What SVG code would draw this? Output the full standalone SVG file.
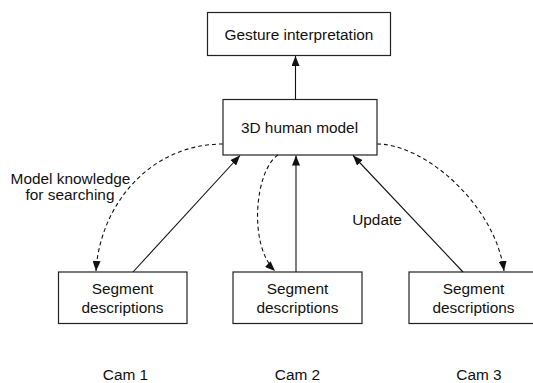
<svg xmlns="http://www.w3.org/2000/svg" width="533" height="383" viewBox="0 0 533 383">
<defs>
<marker id="ah" viewBox="0 0 10 8" refX="10" refY="4" markerWidth="10" markerHeight="8" markerUnits="userSpaceOnUse" orient="auto">
<path d="M0,0 L10,4 L0,8 Z" fill="#111"/>
</marker>
<style>
.box{fill:#fff;stroke:#222;stroke-width:1.2}
.t{font-family:"Liberation Sans",Arial,sans-serif;font-size:15.4px;fill:#111;text-anchor:middle}
.s{fill:none;stroke:#111;stroke-width:1.1}
.d{fill:none;stroke:#111;stroke-width:1.1;stroke-dasharray:4,3}
</style>
</defs>
<rect width="533" height="383" fill="#fff"/>
<g id="gesture">
<rect class="box" x="207.5" y="12.5" width="183" height="43"/>
<text class="t" x="299" y="39.5">Gesture interpretation</text>
</g>
<g id="model">
<rect class="box" x="223" y="99.5" width="154" height="55.5"/>
<text class="t" x="299.5" y="132.5">3D human model</text>
</g>
<g id="seg1">
<rect class="box" x="58.5" y="272" width="128.5" height="51.5"/>
<text class="t" x="122.5" y="293.5">Segment</text>
<text class="t" x="122.5" y="312.5">descriptions</text>
</g>
<g id="seg2">
<rect class="box" x="233" y="272" width="129" height="51.5"/>
<text class="t" x="297.5" y="293.5">Segment</text>
<text class="t" x="297.5" y="312.5">descriptions</text>
</g>
<g id="seg3">
<rect class="box" x="409" y="272" width="129" height="51.5"/>
<text class="t" x="473.5" y="293.5">Segment</text>
<text class="t" x="473.5" y="312.5">descriptions</text>
</g>
<g id="connectors">
<path class="s" d="M295.5,99.5 L295.5,56" marker-end="url(#ah)"/>
<path class="s" d="M133,272 L240,155.5" marker-end="url(#ah)"/>
<path class="s" d="M296,272 L296,155.5" marker-end="url(#ah)"/>
<path class="s" d="M463,272 L353,155.5" marker-end="url(#ah)"/>
<path class="d" d="M223,144 C150,144 100,205 96,271" marker-end="url(#ah)"/>
<path class="d" d="M278,155 C255,170 248,245 275,271" marker-end="url(#ah)"/>
<path class="d" d="M377,144 C425,144 495,205 504,271" marker-end="url(#ah)"/>
</g>
<g id="labels">
<text class="t" x="70.5" y="183.5">Model knowledge</text>
<text class="t" x="70" y="199.5">for searching</text>
<text class="t" x="377" y="225">Update</text>
<text class="t" x="125.5" y="380">Cam 1</text>
<text class="t" x="297.5" y="380">Cam 2</text>
<text class="t" x="479" y="380">Cam 3</text>
</g>
</svg>
